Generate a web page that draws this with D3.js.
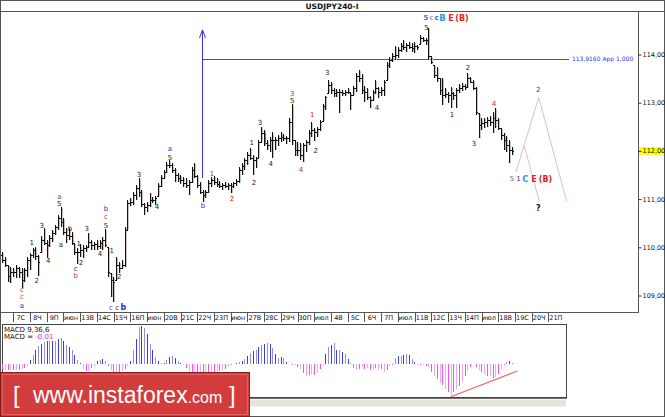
<!DOCTYPE html>
<html>
<head>
<meta charset="utf-8">
<script src="https://cdn.jsdelivr.net/npm/d3@7"></script>
<style>
body { margin: 0; background: #fff; }
svg { display: block; }
text { font-family: "DejaVu Sans", sans-serif; }
</style>
</head>
<body>
<div id="chart"></div>
<script>
// USDJPY H4 bars
const highs = [
109.90,109.80,109.63,109.59,109.57,109.63,109.59,109.57,109.57,109.80,
109.88,109.98,110.01,109.84,110.23,110.40,110.15,110.25,110.36,110.46,
110.67,110.84,110.61,110.40,110.40,110.32,110.09,109.98,110.07,110.05,
110.05,110.30,110.15,110.11,110.15,110.15,110.21,110.38,110.01,109.47,
109.38,109.80,109.69,109.74,110.42,110.98,111.02,111.15,111.29,111.44,
111.19,110.92,110.94,111.13,111.04,111.06,111.33,111.50,111.60,111.77,
111.81,111.75,111.65,111.54,111.50,111.46,111.44,111.40,111.67,111.75,
111.50,111.35,111.19,111.19,111.40,111.46,111.48,111.44,111.38,111.33,
111.35,111.33,111.33,111.35,111.42,111.67,111.75,111.85,111.98,112.06,
111.92,111.87,112.23,112.50,112.43,112.23,112.29,112.39,112.29,112.33,
112.39,112.35,112.31,112.68,112.97,112.23,112.18,112.16,112.16,112.23,
112.43,112.60,112.47,112.50,112.64,112.97,113.14,113.47,113.43,113.31,
113.28,113.28,113.26,113.26,113.31,113.22,113.35,113.62,113.68,113.60,
113.35,113.31,113.14,113.26,113.47,113.33,113.33,113.47,113.85,113.95,
114.03,114.18,114.16,114.24,114.30,114.24,114.26,114.24,114.26,114.20,
114.40,114.36,114.34,114.55,113.97,113.78,113.74,113.51,113.51,113.31,
113.22,113.33,113.22,113.31,113.39,113.41,113.39,113.62,113.53,113.47,
113.33,112.79,112.68,112.68,112.70,112.72,112.81,112.89,112.68,112.47,
112.37,112.31,112.23,112.08];

const lows = [
109.67,109.59,109.28,109.26,109.38,109.36,109.36,109.15,109.28,109.38,
109.53,109.78,109.74,109.40,109.90,110.05,109.78,110.01,110.11,110.25,
110.36,110.42,110.25,110.09,110.15,110.05,109.84,109.65,109.80,109.78,
109.90,109.98,109.94,109.94,109.94,109.96,109.94,110.01,109.38,108.97,
108.87,109.32,109.47,109.57,109.59,110.36,110.86,110.88,110.98,111.04,
110.84,110.67,110.73,110.84,110.92,110.88,111.06,111.25,111.44,111.54,
111.65,111.54,111.35,111.35,111.31,111.25,111.23,111.08,111.33,111.44,
111.23,111.11,110.94,111.02,111.13,111.25,111.29,111.25,111.23,111.19,
111.23,111.19,111.13,111.23,111.27,111.33,111.50,111.60,111.71,111.81,
111.50,111.65,111.85,112.18,112.10,112.02,111.98,111.85,112.02,112.10,
112.18,112.21,112.14,112.18,112.12,111.89,111.89,111.81,111.77,111.98,
112.12,112.29,112.21,112.29,112.41,112.62,112.85,113.20,113.18,113.12,
113.12,112.79,113.14,113.14,113.18,112.85,113.16,113.22,113.43,113.18,
113.02,113.06,112.89,113.06,113.18,113.10,113.14,113.14,113.47,113.72,
113.85,113.89,113.93,114.05,114.09,114.05,114.11,114.05,114.03,114.09,
114.22,114.26,114.20,113.89,113.80,113.51,113.43,113.16,112.95,113.10,
112.99,112.89,113.06,112.89,113.20,113.24,113.26,113.31,113.41,113.26,
112.75,112.27,112.43,112.47,112.50,112.52,112.37,112.47,112.43,112.23,
112.02,111.98,111.75,111.92];

const closes = [
109.74,109.63,109.40,109.49,109.49,109.57,109.49,109.32,109.53,109.74,
109.84,109.94,109.82,109.69,110.15,110.09,110.05,110.19,110.30,110.42,
110.61,110.52,110.32,110.25,110.23,110.09,109.90,109.90,109.94,109.98,
110.01,110.11,110.05,110.07,110.03,110.09,110.15,110.05,109.49,109.32,
109.28,109.63,109.57,109.63,110.36,110.92,110.94,111.08,111.23,111.15,
110.90,110.84,110.88,110.98,110.98,111.02,111.27,111.44,111.56,111.71,
111.71,111.60,111.50,111.44,111.40,111.33,111.29,111.35,111.60,111.48,
111.29,111.15,111.08,111.15,111.33,111.40,111.35,111.31,111.27,111.29,
111.27,111.29,111.27,111.33,111.38,111.60,111.69,111.81,111.92,111.85,
111.81,111.85,112.18,112.37,112.16,112.12,112.23,112.23,112.23,112.27,
112.29,112.27,112.27,112.60,112.23,112.02,112.02,111.92,112.12,112.18,
112.37,112.43,112.39,112.45,112.60,112.93,113.12,113.37,113.26,113.20,
113.22,113.22,113.20,113.22,113.22,113.16,113.31,113.55,113.51,113.26,
113.22,113.12,113.06,113.22,113.31,113.22,113.26,113.43,113.78,113.89,
113.97,113.99,114.09,114.18,114.16,114.20,114.16,114.14,114.18,114.16,
114.34,114.30,114.30,113.97,113.85,113.57,113.51,113.26,113.16,113.18,
113.16,113.20,113.16,113.26,113.31,113.35,113.33,113.51,113.43,113.31,
112.81,112.54,112.58,112.60,112.64,112.60,112.68,112.64,112.47,112.33,
112.23,112.12,112.02,112.00];
const firstOpen = 109.85;

// MACD 9,36,6 histogram, one value per bar
const macd = [
-0.05,-0.06,-0.06,-0.06,-0.06,-0.06,-0.06,-0.05,-0.04,-0.02,
0.04,0.09,0.14,0.18,0.20,0.22,0.23,0.23,0.23,0.23,0.25,0.26,0.23,0.19,0.17,0.14,0.09,0.04,0.01,
-0.05,-0.07,-0.07,-0.04,-0.02,
0.03,0.04,0.05,0.03,
-0.02,-0.06,-0.08,-0.08,-0.08,-0.07,-0.05,-0.02,
0.03,0.14,0.25,0.37,0.38,0.36,0.30,0.20,0.14,0.07,0.03,0.01,0.01,0.04,0.07,0.08,0.06,0.03,0.01,
-0.01,-0.04,-0.08,-0.09,-0.09,-0.10,-0.10,-0.10,-0.09,-0.09,-0.09,-0.08,-0.08,-0.07,-0.06,-0.05,-0.03,-0.01,
0.005,0.01,0.02,0.03,0.05,0.08,0.11,0.13,0.14,0.17,0.19,0.20,0.21,0.20,0.16,0.10,0.06,0.07,0.06,0.02,
0.005,-0.005,
-0.01,-0.03,-0.05,-0.09,-0.12,-0.11,-0.10,-0.11,-0.09,-0.05,-0.02,
0.10,0.17,0.19,0.21,0.14,0.14,0.12,0.10,0.05,0.01,
-0.04,-0.06,-0.05,-0.03,-0.05,-0.04,-0.06,-0.05,-0.04,-0.06,-0.05,-0.08,-0.06,-0.02,-0.005,
0.06,0.08,0.08,0.09,0.10,0.09,0.05,0.02,
-0.01,-0.01,-0.01,-0.02,-0.03,-0.08,-0.12,-0.15,-0.19,-0.21,-0.25,-0.28,-0.31,-0.28,-0.25,-0.22,-0.18,-0.12,-0.07,-0.03,
0.005,
-0.03,-0.06,-0.08,-0.10,-0.12,-0.12,-0.14,-0.13,-0.10,-0.05,-0.01,
0.02,0.03,0.01];
const macdTrend = [[161, -0.324], [184.95, -0.067]];

const dayLabels = ["7С","8Ч","9П","июн","13В","14С","15Ч","16П","июн","20В","21С","22Ч","23П","июн",
  "27В","28С","29Ч","30П","июл","4В","5С","6Ч","7П","июл","11В","12С","13Ч","14П","июл","18В","19С","20Ч","21П"];
const dayTicks = dayLabels.map((_, k) => 4.05 + 6 * k);
const priceTicks = [109, 110, 111, 112, 113, 114];

// wave marks: [text, bar index, price, kind]
const waveLabels = [
  ["c",7.18,109.13,"br"],["c",7.18,108.98,"br"],["a",7.18,108.80,"bl"],
  ["1",10.66,110.09,"k"],["2",12.45,109.32,"k"],["3",14.25,110.46,"k"],["4",16.61,109.72,"k"],
  ["a",20.56,111.06,"br"],["5",20.56,110.90,"k"],["a",21.17,110.05,"k"],["b",24.4,110.40,"k"],
  ["c",26.44,109.57,"k"],["b",26.44,109.42,"br"],["1",27.52,110.07,"k"],["2",28.35,109.69,"k"],
  ["3",30.39,110.40,"k"],["4",35.16,109.88,"k"],
  ["b",37.32,110.81,"bl"],["c",37.32,110.64,"br"],["5",37.32,110.46,"k"],
  ["1",39.36,109.94,"k"],["2",42.09,109.40,"k"],
  ["c",39.11,108.76,"bl"],["c",41.37,108.76,"k"],["b",43.52,108.76,"blb"],
  ["3",49.16,111.52,"k"],["4",55.62,110.84,"k"],["a",60.28,112.06,"bl"],["5",60.28,111.87,"k"],
  ["b",72.12,110.86,"bl"],["1",75.35,111.54,"rd"],["2",82.53,111.02,"rd"],
  ["1",89.6,112.18,"k"],["2",90.42,111.35,"k"],["3",92.57,112.58,"k"],["4",96.41,111.73,"k"],
  ["3",104.16,113.20,"rd"],["5",104.16,113.04,"k"],["4",107.28,111.62,"rd"],
  ["1",111.34,112.75,"rd"],["2",112.56,112.00,"k"],["3",116.68,113.62,"k"],["4",134.55,112.91,"k"],
  ["5",152.3,114.57,"k"],
  ["5",152.1,114.76,"pu"],["c",154.1,114.76,"lp"],["c",155.9,114.76,"cb"],
  ["B",158.06,114.76,"cy"],["E",161.1,114.76,"RE"],["(B)",165.05,114.76,"RE"],
  ["1",161.46,112.75,"k"],["2",167.2,113.74,"k"],["3",169.36,112.16,"k"],["4",176.53,112.99,"rd"],
  ["5",183.0,111.42,"gr"],["1",185.3,111.42,"bl"],["C",187.8,111.42,"cy"],
  ["E",190.9,111.42,"RE"],["(B)",195.0,111.42,"RE"],
  ["2",192.43,113.28,"bl"],["?",192.43,110.82,"q"]
];
const labelStyle = {
  k:  { fill: "#222", size: 7, weight: "normal" },
  gr: { fill: "#6a6a7a", size: 7, weight: "normal" },
  br: { fill: "#a2423c", size: 7, weight: "normal" },
  bl: { fill: "#2b2bdd", size: 7, weight: "normal" },
  blb:{ fill: "#2b2bdd", size: 8, weight: "bold" },
  rd: { fill: "#c0302a", size: 7, weight: "normal" },
  pu: { fill: "#8e5aa0", size: 7, weight: "bold" },
  lp: { fill: "#9d9de6", size: 7, weight: "bold" },
  cb: { fill: "#3a5ae0", size: 7, weight: "bold" },
  cy: { fill: "#2a9be0", size: 8.5, weight: "bold" },
  RE: { fill: "#e02424", size: 8, weight: "bold" },
  q:  { fill: "#111", size: 8, weight: "bold" }
};

// drawn objects
const levelPrice = 113.916, levelFrom = 71.75, levelTo = 203.4;
const arrowLow = 111.44, arrowHigh = 114.51;
const pinkMark = { i: 94.4, hi: 112.37, lo: 112.12 };
const projA = [[184.4, 111.56], [192.6, 113.11], [202.6, 110.95]];
const projB = [[187.4, 112.10], [192.8, 110.95]];

const W = 665, H = 417;
const svg = d3.select("#chart").append("svg").attr("width", W).attr("height", H);
svg.append("rect").attr("width", W).attr("height", H).attr("fill", "#fff");

const x = d3.scaleLinear().domain([0, 200]).range([2, 2 + 200 * 2.787]);
const y = d3.scaleLinear().domain([109, 114]).range([295.5, 54.5]);
const ym = d3.scaleLinear().domain([0, 0.38]).range([364.3, 326.3]);
const px = i => Math.round(x(i)) + 0.5;

// title
svg.append("text").attr("x", 332).attr("y", 9).attr("text-anchor", "middle")
  .style("font-size", "7.5px").style("font-weight", "bold").attr("fill", "#111").text("USDJPY240-I");

// frame lines
const frame = svg.append("g").attr("stroke", "#555").attr("fill", "none").attr("shape-rendering", "crispEdges");
frame.append("rect").attr("x", 0.5).attr("y", 0.5).attr("width", W - 1).attr("height", H - 1);
frame.append("line").attr("x1", 0).attr("x2", W).attr("y1", 11.5).attr("y2", 11.5);
frame.append("line").attr("x1", 0).attr("x2", 638.5).attr("y1", 312.5).attr("y2", 312.5);
frame.append("line").attr("x1", 638.5).attr("x2", 638.5).attr("y1", 11.5).attr("y2", 312.5);

svg.append("clipPath").attr("id", "clipMain").append("rect")
  .attr("x", 1).attr("y", 12).attr("width", 637).attr("height", 300);
const plot = svg.append("g").attr("clip-path", "url(#clipMain)");

// blue arrow and level
const ax = px(levelFrom);
plot.append("line").attr("x1", ax).attr("x2", ax).attr("y1", y(arrowLow)).attr("y2", y(arrowHigh))
  .attr("stroke", "#3333ee");
plot.append("polyline").attr("fill", "none").attr("stroke", "#3333ee")
  .attr("points", `${ax - 3},${y(arrowHigh) + 8} ${ax},${y(arrowHigh)} ${ax + 3},${y(arrowHigh) + 8}`);
const ly = Math.round(y(levelPrice)) + 0.5;
plot.append("line").attr("x1", ax).attr("x2", x(levelTo)).attr("y1", ly).attr("y2", ly)
  .attr("stroke", "#4444ff").attr("shape-rendering", "crispEdges");
plot.append("text").attr("x", x(levelTo) + 3).attr("y", y(levelPrice) + 2.5)
  .style("font-size", "6px").attr("fill", "#3333ee").text("113,9160 App 1,000");

// projection lines
const pline = d3.line().x(d => x(d[0])).y(d => y(d[1]));
[projA, projB].forEach(p => plot.append("path").attr("d", pline(p))
  .attr("fill", "none").attr("stroke", "#dcc0c0").attr("stroke-width", 1));

// OHLC bars
const bars = highs.map((h, i) => ({ i, h, l: lows[i], c: closes[i], o: i ? closes[i - 1] : firstOpen }));
const barG = plot.append("g").attr("shape-rendering", "crispEdges");
const clamp = d => Math.max(d.l, Math.min(d.h, d.o));
barG.selectAll(".shadow").data(bars).join("line").attr("class", "shadow")
  .attr("x1", d => px(d.i) + 1).attr("x2", d => px(d.i) + 1)
  .attr("y1", d => y(d.h) + 1).attr("y2", d => y(d.l))
  .attr("stroke", "#c4c4c4");
barG.selectAll(".hl").data(bars).join("line").attr("class", "hl")
  .attr("x1", d => px(d.i)).attr("x2", d => px(d.i))
  .attr("y1", d => y(d.h)).attr("y2", d => y(d.l))
  .attr("stroke", "#111");
barG.selectAll(".op").data(bars).join("line").attr("class", "op")
  .attr("x1", d => px(d.i) - 1.5).attr("x2", d => px(d.i))
  .attr("y1", d => Math.round(y(clamp(d))) + 0.5).attr("y2", d => Math.round(y(clamp(d))) + 0.5)
  .attr("stroke", "#111");
barG.selectAll(".cl").data(bars).join("line").attr("class", "cl")
  .attr("x1", d => px(d.i)).attr("x2", d => px(d.i) + 1.5)
  .attr("y1", d => Math.round(y(d.c)) + 0.5).attr("y2", d => Math.round(y(d.c)) + 0.5)
  .attr("stroke", "#111");

plot.append("line").attr("x1", px(pinkMark.i)).attr("x2", px(pinkMark.i))
  .attr("y1", y(pinkMark.hi)).attr("y2", y(pinkMark.lo)).attr("stroke", "#ee22ee");

// wave labels
plot.selectAll(".wave").data(waveLabels).join("text").attr("class", "wave")
  .attr("x", d => x(d[1])).attr("y", d => y(d[2])).attr("dy", "0.36em")
  .attr("text-anchor", "middle")
  .style("font-size", d => labelStyle[d[3]].size + "px")
  .style("font-weight", d => labelStyle[d[3]].weight)
  .attr("fill", d => labelStyle[d[3]].fill)
  .text(d => d[0]);

// price axis
const last = closes[closes.length - 1];
svg.append("rect").attr("x", 639).attr("y", y(last) - 3.8).attr("width", 25).attr("height", 7.6)
  .attr("fill", "#ffff00");
const yAxis = svg.append("g").attr("transform", "translate(638.5,0)")
  .call(d3.axisRight(y).tickValues(priceTicks).tickSize(3).tickPadding(1)
    .tickFormat(d => d3.format(".3f")(d).replace(".", ",")));
yAxis.select(".domain").remove();
yAxis.selectAll("line").attr("stroke", "#333");
yAxis.selectAll("text").style("font-size", "6.5px").style("font-family", "DejaVu Sans").attr("fill", "#111");

// time axis
const xAxis = svg.append("g").attr("transform", "translate(0,312.5)")
  .call(d3.axisBottom(x).tickValues(dayTicks).tickSize(9).tickFormat((d, k) => dayLabels[k]));
xAxis.select(".domain").remove();
xAxis.selectAll("line").attr("stroke", "#555").attr("shape-rendering", "crispEdges");
xAxis.selectAll("text").attr("x", 7).attr("y", 3).attr("dy", "0.71em")
  .style("font-size", "6.5px").style("font-family", "DejaVu Sans").attr("fill", "#111");

// MACD window
const mg = svg.append("g");
mg.append("rect").attr("x", 2.5).attr("y", 324.5).attr("width", 564).attr("height", 73)
  .attr("fill", "#fff").attr("stroke", "#444").attr("shape-rendering", "crispEdges");
mg.append("line").attr("x1", 2).attr("x2", 567).attr("y1", 398).attr("y2", 398)
  .attr("stroke", "#444").attr("stroke-width", 1.5);
mg.append("rect").attr("x", 250).attr("y", 399.5).attr("width", 316).attr("height", 7)
  .attr("fill", "#e6e4dc");
mg.selectAll(".mb").data(macd).join("line").attr("class", "mb")
  .attr("x1", (d, i) => px(i)).attr("x2", (d, i) => px(i))
  .attr("y1", ym(0)).attr("y2", d => ym(d))
  .attr("stroke", (d, i) => d >= 0 ? (i % 2 ? "#8f8ff0" : "#3a3ae8") : (i % 2 ? "#f7a6f7" : "#ee55ee"))
  .attr("shape-rendering", "crispEdges");
mg.append("path").attr("d", d3.line().x(d => x(d[0])).y(d => ym(d[1]))(macdTrend))
  .attr("stroke", "#f06060").attr("stroke-width", 1.2).attr("fill", "none");
mg.append("text").attr("x", 4).attr("y", 331.5).style("font-size", "7px").attr("fill", "#111").text("MACD 9,36,6");
const mt = mg.append("text").attr("x", 4).attr("y", 338.5).style("font-size", "7px").attr("fill", "#111");
mt.append("tspan").text("MACD = ");
mt.append("tspan").attr("fill", "#ee22ee").text("-0,01");

// banner
const bn = svg.append("g");
bn.append("rect").attr("x", 0.5).attr("y", 372.5).attr("width", 249).attr("height", 44)
  .attr("fill", "#d33c3c").attr("stroke", "#8e1e1e");
bn.append("rect").attr("x", 2.5).attr("y", 374.5).attr("width", 245).attr("height", 40)
  .attr("fill", "none").attr("stroke", "#e66a6a").attr("stroke-width", 0.8);
const bt = bn.append("text").attr("y", 403).attr("fill", "#fff").style("font-family", "Liberation Sans, Arial, sans-serif");
bt.append("tspan").attr("x", 13).style("font-size", "24px").text("[");
bt.append("tspan").attr("x", 33).style("font-size", "23px").text("www.instaforex");
bt.append("tspan").style("font-size", "16px").text(".com");
bt.append("tspan").attr("x", 229).style("font-size", "24px").text("]");
</script>
</body>
</html>
